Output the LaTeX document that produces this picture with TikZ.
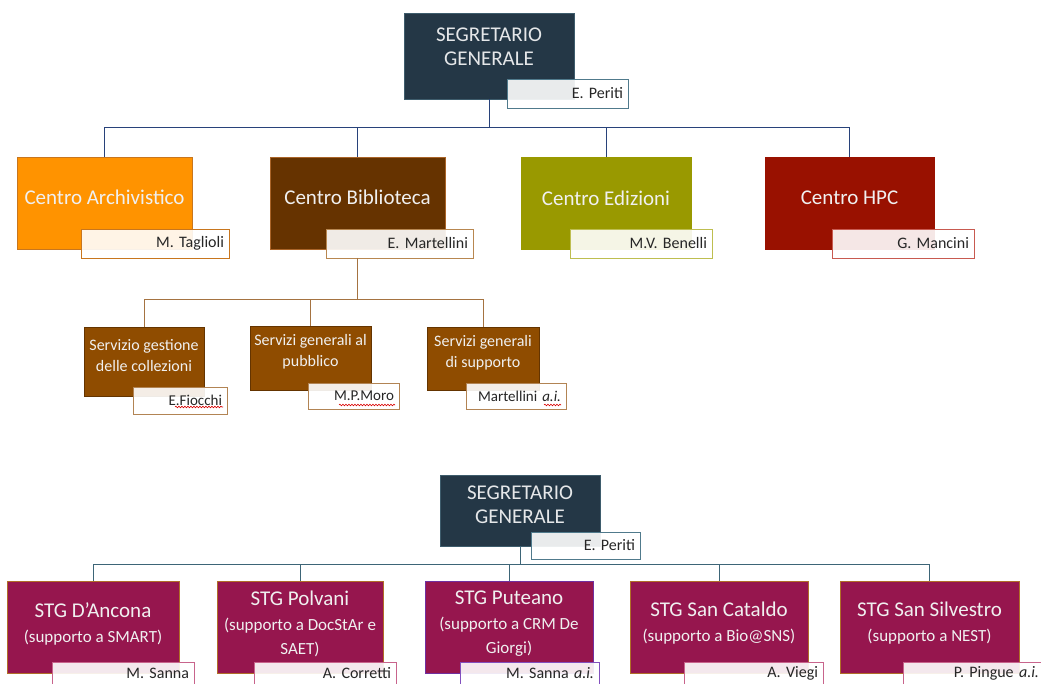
\documentclass[tikz,border=0pt]{standalone}
\usepackage{fontspec}
\setmainfont{Carlito}
\usetikzlibrary{decorations.pathmorphing}

\definecolor{sgfill}{RGB}{36,55,70}
\definecolor{sgedge}{RGB}{62,92,108}
\definecolor{sgname}{RGB}{80,122,140}
\definecolor{busblue}{RGB}{40,66,122}
\definecolor{busslate}{RGB}{61,101,119}
\definecolor{bustan}{RGB}{165,115,65}
\definecolor{archfill}{RGB}{255,147,0}
\definecolor{archedge}{RGB}{200,118,30}
\definecolor{bibfill}{RGB}{102,51,0}
\definecolor{bibline}{RGB}{170,100,40}
\definecolor{bibedge}{RGB}{184,135,80}
\definecolor{servfill}{RGB}{143,76,0}
\definecolor{servedge}{RGB}{100,52,0}
\definecolor{servname}{RGB}{178,132,84}
\definecolor{edizfill}{RGB}{153,153,0}
\definecolor{edizedge}{RGB}{190,190,80}
\definecolor{hpcfill}{RGB}{153,17,0}
\definecolor{hpcedge}{RGB}{200,90,80}
\definecolor{stgfill}{RGB}{150,22,78}
\definecolor{stgedge}{RGB}{176,110,40}
\definecolor{stgname}{RGB}{200,100,140}
\definecolor{putedge}{RGB}{112,48,160}
\definecolor{putname}{RGB}{130,80,190}

\newcommand\orgbig{\fontsize{21}{24}\selectfont}
\newcommand\orgname{\fontsize{16}{19}\selectfont}
\newcommand\orgserv{\fontsize{16}{21}\selectfont}
\newcommand\orgsub{\fontsize{17}{21}\selectfont}

\tikzset{
  orgbox/.style={rectangle, inner sep=0pt, outer sep=0pt, line width=0.8pt},
  boxtext/.style={text=white!94!black, align=center, inner sep=0pt, font=\orgbig},
  namebox/.style 2 args={rectangle, draw=#1, line width=0.8pt, fill=white, fill opacity=0.9,
    text opacity=1, text=black!85, inner xsep=5pt, inner ysep=0pt, outer sep=0pt,
    anchor=north west, minimum height=29pt, text width=#2, align=right, font=\orgname},
  busline/.style={draw=#1, line width=1pt},
  spellwave/.style={draw=red!85!black, line width=0.6pt, decorate,
    decoration={snake, amplitude=0.8pt, segment length=3pt}},
}

\begin{document}
\begin{tikzpicture}[x=1pt,y=-1pt]
        \clip (0,0) rectangle (1041,684);

        % first chart
        \node[orgbox, fill=sgfill, draw=sgedge, minimum width=170pt, minimum height=86pt] (sg) at (489,56) {};
        \node[boxtext, text=white!88!sgfill] (sgT) at ([yshift=9pt]sg.center) {SEGRETARIO\\GENERALE};
        \node[namebox={sgname}{111pt}] (sgN) at (507,79) {E. Periti};

        \node[orgbox, fill=archfill, draw=archedge, minimum width=175pt, minimum height=92pt] (arch) at (104.5,203) {};
        \node[boxtext] (archT) at ([yshift=6pt]arch.center) {Centro Archivistico};
        \node[namebox={archedge}{138pt}] (archN) at (81,229) {M. Taglioli};

        \node[orgbox, fill=bibfill, draw=bibline, minimum width=175pt, minimum height=92pt] (bib) at (357.5,203) {};
        \node[boxtext] (bibT) at ([yshift=6pt]bib.center) {Centro Biblioteca};
        \node[namebox={bibedge}{137pt}] (bibN) at (326,229) {E. Martellini};

        \node[orgbox, fill=edizfill, draw=edizfill, minimum width=170pt, minimum height=92pt] (ediz) at (606,203) {};
        \node[boxtext] (edizT) at ([yshift=5pt]ediz.center) {Centro Edizioni};
        \node[namebox={edizedge}{132pt}] (edizN) at (570,229) {M.V. Benelli};

        \node[orgbox, fill=hpcfill, draw=hpcfill, minimum width=169pt, minimum height=92pt] (hpc) at (849.5,203) {};
        \node[boxtext] (hpcT) at ([yshift=5pt]hpc.center) {Centro HPC};
        \node[namebox={hpcedge}{132pt}] (hpcN) at (832,229) {G. Mancini};

        \coordinate (topbus) at (0,128);
        \draw[busline=busblue] (sg.south) -- (sg.south |- topbus);
        \draw[busline=busblue] (arch.north) |- (hpc.north |- topbus) -- (hpc.north);
        \draw[busline=busblue] (bib.north) -- (bib.north |- topbus);
        \draw[busline=busblue] (ediz.north) -- (ediz.north |- topbus);

        % servizi of Centro Biblioteca
        \node[orgbox, fill=servfill, draw=servedge, minimum width=120pt, minimum height=69pt] (coll) at (144,361.5) {};
        \node[boxtext, font=\orgserv] (collT) at ([yshift=6pt]coll.center) {Servizio gestione\\delle collezioni};
        \node[namebox={servname}{84pt}, minimum height=27pt, font=\fontsize{15}{18}\selectfont] (collN) at (133,387) {E.Fiocchi};

        \node[orgbox, fill=servfill, draw=servedge, minimum width=121pt, minimum height=64pt] (pub) at (310.5,358) {};
        \node[boxtext, font=\orgserv] (pubT) at ([yshift=6pt]pub.center) {Servizi generali al\\pubblico};
        \node[namebox={servname}{81pt}, minimum height=26pt, font=\fontsize{15}{18}\selectfont] (pubN) at (308,383) {M.P.Moro};

        \node[orgbox, fill=servfill, draw=servedge, minimum width=112pt, minimum height=63pt] (supp) at (483,358.5) {};
        \node[boxtext, font=\orgserv] (suppT) at ([yshift=6pt]supp.center) {Servizi generali\\di supporto};
        \node[namebox={servname}{90pt}, minimum height=26pt, font=\fontsize{15}{18}\selectfont] (suppN) at (466,383) {Martellini \textit{a.i.}};

        \coordinate (servbus) at (0,300);
        \draw[busline=bustan] (bib.south |- bibN.south) -- (bib.south |- servbus);
        \draw[busline=bustan] (coll.north) |- (supp.north |- servbus) -- (supp.north);
        \draw[busline=bustan] (pub.north) -- (pub.north |- servbus);

        % spelling marks under the names
        \draw[spellwave] ([xshift=-52pt,yshift=7pt]collN.south east) -- ([xshift=-4pt,yshift=7pt]collN.south east);
        \draw[spellwave] ([xshift=-60pt,yshift=4pt]pubN.south east) -- ([xshift=-4pt,yshift=4pt]pubN.south east);
        \draw[spellwave] ([xshift=-22pt,yshift=4pt]suppN.south east) -- ([xshift=-5pt,yshift=4pt]suppN.south east);

        % second chart
        \node[orgbox, fill=sgfill, draw=sgedge, minimum width=160pt, minimum height=71pt] (sgb) at (520,510.5) {};
        \node[boxtext, text=white!88!sgfill] (sgbT) at ([yshift=6pt]sgb.center) {SEGRETARIO\\GENERALE};
        \node[namebox={sgname}{99pt}, minimum height=27pt] (sgbN) at (531,532) {E. Periti};

        \node[orgbox, fill=stgfill, draw=stgedge, minimum width=172pt, minimum height=92pt] (anc) at (93,627) {};
        \node[boxtext] (ancT) at ([yshift=3.5pt]anc.center) {STG D’Ancona\\[1pt]{\orgsub (supporto a SMART)}};
        \node[namebox={stgname}{132pt}, minimum height=23pt] (ancN) at (52,662) {M. Sanna};

        \node[orgbox, fill=stgfill, draw=stgedge, minimum width=166pt, minimum height=92pt] (pol) at (300,627) {};
        \node[boxtext] (polT) at ([yshift=3.5pt]pol.center) {STG Polvani\\[1pt]{\orgsub (supporto a DocStAr e}\\{\orgsub SAET)}};
        \node[namebox={stgname}{132pt}, minimum height=23pt] (polN) at (254,662) {A. Corretti};

        \node[orgbox, fill=stgfill, draw=putedge, minimum width=168pt, minimum height=92pt] (put) at (509,627) {};
        \node[boxtext] (putT) at ([yshift=3.5pt]put.center) {STG Puteano\\[1pt]{\orgsub (supporto a CRM De}\\{\orgsub Giorgi)}};
        \node[namebox={putname}{129pt}, minimum height=23pt] (putN) at (460,662) {M. Sanna \textit{a.i.}};

        \node[orgbox, fill=stgfill, draw=stgedge, minimum width=178pt, minimum height=92pt] (cat) at (719,627) {};
        \node[boxtext] (catT) at ([yshift=3.5pt]cat.center) {STG San Cataldo\\[1pt]{\orgsub (supporto a Bio@SNS)}};
        \node[namebox={stgname}{129pt}, minimum height=23pt] (catN) at (684,662) {A. Viegi};

        \node[orgbox, fill=stgfill, draw=stgedge, minimum width=179pt, minimum height=92pt] (silv) at (929.5,627) {};
        \node[boxtext] (silvT) at ([yshift=3.5pt]silv.center) {STG San Silvestro\\[1pt]{\orgsub (supporto a NEST)}};
        \node[namebox={stgname}{131pt}, minimum height=23pt] (silvN) at (903,662) {P. Pingue \textit{a.i.}};

        \draw[spellwave] ([xshift=-20pt,yshift=-2pt]putN.south east) -- ([xshift=-4pt,yshift=-2pt]putN.south east);

        \coordinate (botbus) at (0,564);
        \draw[busline=busslate] (sgb.south) -- (sgb.south |- botbus);
        \draw[busline=busslate] (anc.north) |- (silv.north |- botbus) -- (silv.north);
        \draw[busline=busslate] (pol.north) -- (pol.north |- botbus);
        \draw[busline=busslate] (put.north) -- (put.north |- botbus);
        \draw[busline=busslate] (cat.north) -- (cat.north |- botbus);
\end{tikzpicture}
\end{document}
